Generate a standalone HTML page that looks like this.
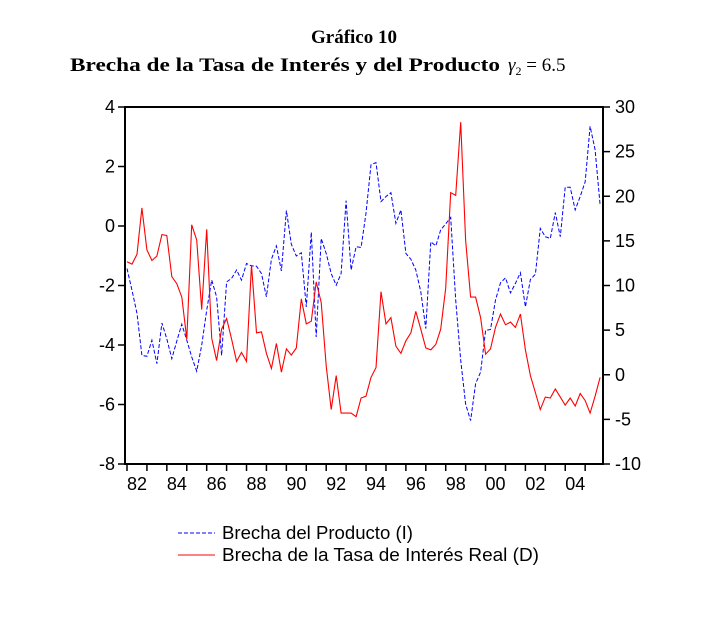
<!DOCTYPE html>
<html><head><meta charset="utf-8"><style>
html,body{margin:0;padding:0;background:#fff;}
svg{display:block;font-family:"Liberation Sans",sans-serif;}
</style></head><body>
<svg id="chart" width="701" height="623" viewBox="0 0 701 623" xmlns="http://www.w3.org/2000/svg">
<text x="354" y="43" text-anchor="middle" font-family="Liberation Serif,serif" font-weight="bold" font-size="19">Gráfico 10</text>
<text x="70" y="71" font-family="Liberation Serif,serif" font-weight="bold" font-size="19" textLength="430" lengthAdjust="spacingAndGlyphs">Brecha de la Tasa de Interés y del Producto</text>
<text x="508" y="71" font-family="Liberation Serif,serif" font-size="19"><tspan font-style="italic">γ</tspan><tspan font-size="12" dy="4">2</tspan><tspan dy="-4"> = 6.5</tspan></text>
<rect x="125" y="107" width="478" height="357" fill="none" stroke="#000" stroke-width="2"/>
<g id="axes"></g>
<polyline id="blue" fill="none" stroke="#0000ff" stroke-width="1" stroke-dasharray="4,2"/>
<polyline id="red" fill="none" stroke="#ff0000" stroke-width="1.1"/>
<g>
<line x1="178" y1="533" x2="215" y2="533" stroke="#0000ff" stroke-dasharray="4,2"/>
<text x="222" y="539" font-size="18" textLength="191" lengthAdjust="spacingAndGlyphs">Brecha del Producto (I)</text>
<line x1="178" y1="555" x2="215" y2="555" stroke="#ff0000"/>
<text x="222" y="561" font-size="18" textLength="317" lengthAdjust="spacingAndGlyphs">Brecha de la Tasa de Interés Real (D)</text>
</g>
</svg>
<script>
const leftTicks=[4,2,0,-2,-4,-6,-8];
const rightTicks=[30,25,20,15,10,5,0,-5,-10];
const yearLabels=["82","84","86","88","90","92","94","96","98","00","02","04"];
const outputGap=[-1.43,-2.16,-2.94,-4.35,-4.38,-3.84,-4.63,-3.26,-3.79,-4.46,-3.87,-3.30,-3.84,-4.40,-4.88,-4.01,-2.83,-1.82,-2.38,-4.35,-1.88,-1.76,-1.48,-1.82,-1.26,-1.34,-1.35,-1.60,-2.38,-1.12,-0.67,-1.51,0.52,-0.61,-1.01,-0.90,-2.72,-0.21,-3.73,-0.42,-0.92,-1.60,-1.99,-1.60,0.85,-1.48,-0.70,-0.72,0.43,2.06,2.13,0.82,0.99,1.12,0.09,0.54,-0.92,-1.12,-1.48,-2.21,-3.45,-0.53,-0.67,-0.13,0.07,0.29,-2.49,-4.51,-5.98,-6.54,-5.30,-4.91,-3.51,-3.48,-2.49,-1.91,-1.74,-2.25,-1.93,-1.57,-2.72,-1.80,-1.62,-0.08,-0.36,-0.42,0.45,-0.36,1.30,1.30,0.54,0.99,1.49,3.35,2.56,0.71];
const interestGap=[12.65,12.4,13.5,18.7,14.0,12.8,13.3,15.7,15.6,11.0,10.2,8.7,4.0,16.8,15.1,7.3,16.3,4.1,1.6,5.1,6.3,4.0,1.5,2.5,1.5,12.3,4.7,4.8,2.4,0.7,3.5,0.3,2.9,2.2,3.0,8.5,5.7,6.0,10.4,8.1,1.0,-3.9,-0.1,-4.3,-4.3,-4.3,-4.7,-2.6,-2.4,-0.3,0.8,9.3,5.7,6.4,3.2,2.4,3.8,4.7,7.1,5.1,3.0,2.8,3.4,5.1,9.7,20.4,20.1,28.3,15.1,8.7,8.7,6.4,2.3,2.9,5.3,6.8,5.6,5.9,5.3,6.8,2.8,-0.1,-2.0,-3.9,-2.5,-2.6,-1.6,-2.5,-3.4,-2.6,-3.5,-2.1,-2.9,-4.3,-2.4,-0.3];
const startYear=1982;
const X0=127,QW=4.98,T=107,B=464;
function xq(i){return X0+i*QW;}
function xYear(y){return X0+(y-startYear)*4*QW;}
function yL(v){return T+(4-v)*(B-T)/12;}
function yR(v){return T+(30-v)*(B-T)/40;}
const NS="http://www.w3.org/2000/svg";
const g=document.getElementById('axes');
function mk(tag,attrs){const e=document.createElementNS(NS,tag);for(const k in attrs)e.setAttribute(k,attrs[k]);g.appendChild(e);return e;}
leftTicks.forEach(v=>{
 const l=mk('line',{x1:118,x2:125,y1:yL(v),y2:yL(v),stroke:'#000','stroke-width':1.5});
 
 
 const t=mk('text',{x:115,y:yL(v)+6,'text-anchor':'end','font-size':18});
 
 
 t.textContent=v;
});
rightTicks.forEach(v=>{
 const l=mk('line',{x1:603,x2:610,y1:yR(v),y2:yR(v),stroke:'#000','stroke-width':1.5});
 
 
 const t=mk('text',{x:615,y:yR(v)+6,'font-size':18});
 
 
 t.textContent=v;
});
for(let y=startYear;y<=2005;y++){
 const l=mk('line',{x1:xYear(y),x2:xYear(y),y1:464,y2:471,stroke:'#000','stroke-width':1.5});
 
 
}
yearLabels.forEach((s,k)=>{
 const t=mk('text',{x:xYear(startYear+2*k)+10,y:490,'text-anchor':'middle','font-size':18});
 
 
 t.textContent=s;
});
document.getElementById('blue').setAttribute('points',outputGap.map((v,i)=>xq(i).toFixed(1)+','+yL(v).toFixed(1)).join(' '));
document.getElementById('red').setAttribute('points',interestGap.map((v,i)=>xq(i).toFixed(1)+','+yR(v).toFixed(1)).join(' '));
</script>
</body></html>
